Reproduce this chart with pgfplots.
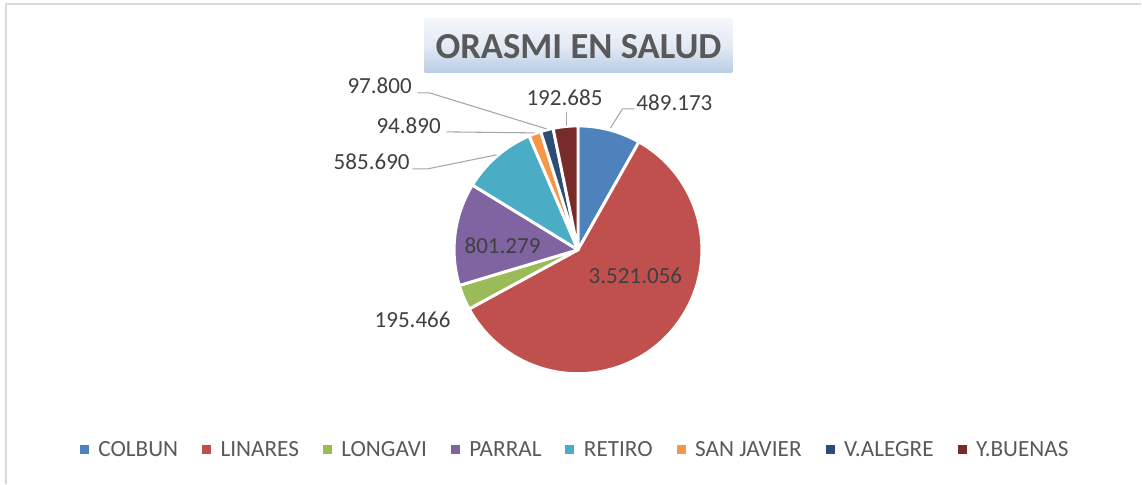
\documentclass[border=0pt]{standalone}
\usepackage{fontspec}
\setmainfont{Carlito}
\usepackage{pgfplots}
\usepackage{pgfplotstable}
\pgfplotsset{compat=1.18}

\definecolor{c1}{HTML}{4F81BD}
\definecolor{c2}{HTML}{C0504D}
\definecolor{c3}{HTML}{9BBB59}
\definecolor{c4}{HTML}{8064A2}
\definecolor{c5}{HTML}{4BACC6}
\definecolor{c6}{HTML}{F79646}
\definecolor{c7}{HTML}{2C4D75}
\definecolor{c8}{HTML}{772C2A}
\definecolor{lbl}{HTML}{404040}
\definecolor{txt}{HTML}{595959}
\definecolor{frame}{HTML}{D9D9D9}
\definecolor{leader}{HTML}{A6A6A6}
\definecolor{ttop}{HTML}{F4F7FB}
\definecolor{tbot}{HTML}{B8CCE4}

% values in thousands, label position in pixels
\pgfplotstableread{
name value col label lx ly
COLBUN 489.173 c1 489.173 675 103
LINARES 3521.056 c2 3.521.056 636 276
LONGAVI 195.466 c3 195.466 413 320
PARRAL 801.279 c4 801.279 503 246
RETIRO 585.690 c5 585.690 372 162
SANJAVIER 94.890 c6 94.890 409 126
VALEGRE 97.800 c7 97.800 380 86
YBUENAS 192.685 c8 192.685 565 98
}\piedata

\begin{document}
\begin{tikzpicture}
\begin{axis}[
    scale only axis,
    width=856.5pt, height=363pt,
    xmin=0, xmax=1142, ymin=0, ymax=484,
    y dir=reverse,
    hide axis,
    clip=false,
    legend columns=-1,
    legend image code/.code={\fill[#1] (0pt,-3pt) rectangle (6pt,3pt); \path (11.5pt,0pt);},
    legend style={at={(axis cs:576,450)}, anchor=center, draw=none, fill=none,
        font=\fontsize{17.4pt}{19pt}\selectfont, text=txt,
        /tikz/every even column/.append style={column sep=16pt}},
]
\path (axis cs:0,0) rectangle (axis cs:1142,484);
\draw[frame, line width=1.5pt] (axis cs:5.8,484) -- (axis cs:5.8,4) -- (axis cs:1142,4);

% title
\shade[top color=ttop, bottom color=tbot, middle color=ttop!70!tbot]
    (axis cs:425,19) rectangle (axis cs:733,73);
\node[text=txt, font=\fontsize{27.5pt}{31pt}\selectfont\bfseries]
    at (axis cs:579,47) {ORASMI EN SALUD};

% slices
\def\total{0}
\pgfplotsforeachungrouped \i in {0,...,7}{%
  \pgfplotstablegetelem{\i}{value}\of\piedata
  \pgfmathsetmacro\total{\total+\pgfplotsretval}%
}
\def\cum{0}
\pgfplotsforeachungrouped \i in {0,...,7}{%
  \pgfplotstablegetelem{\i}{value}\of\piedata \let\val\pgfplotsretval
  \pgfplotstablegetelem{\i}{col}\of\piedata \let\col\pgfplotsretval
  \pgfmathsetmacro\aa{90-\cum/\total*360}%
  \pgfmathsetmacro\cum{\cum+\val}%
  \pgfmathsetmacro\bb{90-\cum/\total*360}%
  \edef\slice{\noexpand\fill[fill=\col, draw=white, line width=2.2pt, line join=round]
     (axis cs:578.5,250) -- ++(\aa:93pt) arc[start angle=\aa, end angle=\bb, radius=93pt] -- cycle;}%
  \slice
}
% data labels
\pgfplotsforeachungrouped \i in {0,...,7}{%
  \pgfplotstablegetelem{\i}{label}\of\piedata \let\lab\pgfplotsretval
  \pgfplotstablegetelem{\i}{lx}\of\piedata \let\lx\pgfplotsretval
  \pgfplotstablegetelem{\i}{ly}\of\piedata \let\ly\pgfplotsretval
  \edef\lnode{\noexpand\node[text=lbl, font=\noexpand\fontsize{17.3pt}{19pt}\noexpand\selectfont, inner sep=0pt]
     at (axis cs:\lx,\ly) {\lab};}%
  \lnode
}
% leader lines
\draw[leader, line width=0.8pt] (axis cs:635,109) -- (axis cs:623,109) -- (axis cs:611,128);
\draw[leader, line width=0.8pt] (axis cs:567,112) -- (axis cs:567,126);
\draw[leader, line width=0.8pt] (axis cs:418,93) -- (axis cs:430,93) -- (axis cs:547,129);
\draw[leader, line width=0.8pt] (axis cs:447,132) -- (axis cs:535,133);
\draw[leader, line width=0.8pt] (axis cs:413,169) -- (axis cs:428,169) -- (axis cs:497,155);

\addlegendimage{c1}
\addlegendimage{c2}
\addlegendimage{c3}
\addlegendimage{c4}
\addlegendimage{c5}
\addlegendimage{c6}
\addlegendimage{c7}
\addlegendimage{c8}
\legend{COLBUN, LINARES, LONGAVI, PARRAL, RETIRO, SAN JAVIER, V.ALEGRE, Y.BUENAS}
\end{axis}
\end{tikzpicture}
\end{document}
